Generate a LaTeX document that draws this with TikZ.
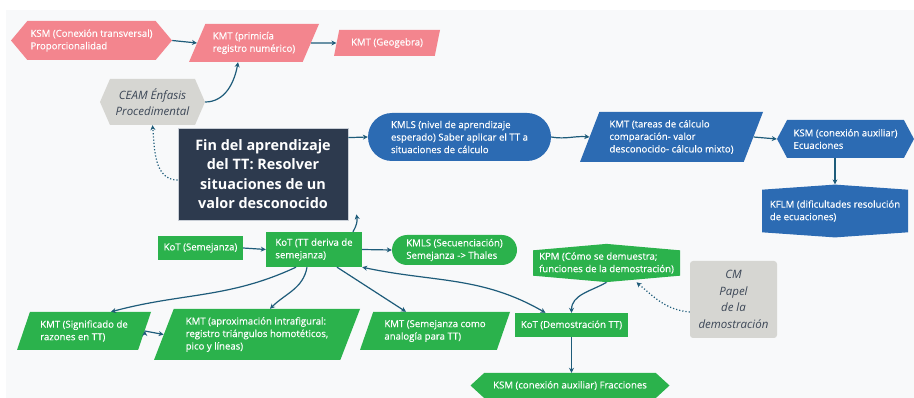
\documentclass[tikz,border=0pt]{standalone}
\usepackage{fontspec}
\setmainfont{Open Sans}
\newfontfamily\semib{Open Sans}[FakeBold=0.35]
\usetikzlibrary{shapes.geometric,shapes.symbols,shapes.misc,arrows.meta}

\definecolor{pinkbox}{HTML}{F3858E}
\definecolor{bluebox}{HTML}{2C6BB3}
\definecolor{greenbox}{HTML}{2BB24C}
\definecolor{navybox}{HTML}{2D3A4E}
\definecolor{navyline}{HTML}{C8CED6}
\definecolor{greybox}{HTML}{D6D6D2}
\definecolor{greytext}{HTML}{3B4656}
\definecolor{arrowc}{HTML}{1E5C7A}
\definecolor{canvas}{HTML}{F8F9FA}

\begin{document}
\begin{tikzpicture}[x=1pt,y=-1pt,>={Stealth[length=5pt,width=5pt]},
  base/.style={inner sep=2pt,text=white,align=left,font=\semib\fontsize{9.6}{12.5}\selectfont},
  para/.style={base,trapezium,trapezium left angle=63,trapezium right angle=117,trapezium stretches body},
  hexa/.style={base,signal,signal to=west and east,signal pointer angle=#1},
  bulge/.style={base,signal,signal to=north and south,signal pointer angle=#1},
  pill/.style={base,rounded rectangle},
  box/.style={base,rectangle},
  ital/.style={fill=greybox,text=greytext,align=center,font=\fontsize{11.5}{16.7}\selectfont\itshape},
  link/.style={->,draw=arrowc,line width=1.2pt}]
  \useasboundingbox (0,0) rectangle (914,398);
  \fill[canvas] (6,10) rectangle (914,398);
  % pink row
  \node[hexa=100,fill=pinkbox,minimum width=161pt,minimum height=39pt] (ksmprop) at (91.5,40.5) {KSM (Conexión transversal)\\Proporcionalidad};
  \node[para,fill=pinkbox,trapezium left angle=58,trapezium right angle=122,minimum width=130pt,minimum height=38pt] (kmtprim) at (254,43) {KMT (primicía\\registro numérico)};
  \node[para,fill=pinkbox,trapezium left angle=69,trapezium right angle=111,minimum width=106pt,minimum height=26pt] (kmtgeo) at (387,43) {KMT (Geogebra)};
  \node[hexa=133,ital,minimum width=105pt,minimum height=46pt] (ceam) at (152.5,102) {CEAM Énfasis\\Procedimental};
  \node[box,fill=navybox,draw=navyline,line width=0.8pt,align=center,font=\fontsize{14.4}{19.5}\selectfont\bfseries,minimum width=170pt,minimum height=92pt] (fin) at (263,174) {Fin del aprendizaje\\del TT: Resolver\\situaciones de un\\valor desconocido};
  % blue row
  \node[pill,fill=bluebox,minimum width=187pt,minimum height=48pt] (kmlsniv) at (459.5,137) {KMLS (nivel de aprendizaje\\esperado) Saber aplicar el TT a\\situaciones de cálculo};
  \node[para,fill=bluebox,minimum width=183pt,minimum height=50pt] (kmttar) at (671.5,137) {KMT (tareas de cálculo\\comparación- valor\\desconocido- cálculo mixto)};
  \node[hexa=124,fill=bluebox,minimum width=137pt,minimum height=38pt] (ksmecu) at (845.5,139) {KSM (conexión auxiliar)\\Ecuaciones};
  \node[bulge=172,fill=bluebox,minimum width=146pt,minimum height=52pt] (kflm) at (835,211) {KFLM (dificultades resolución\\de ecuaciones)};
  % green part
  \node[box,fill=greenbox,minimum width=85pt,minimum height=24pt] (kotsem) at (200.5,248) {KoT (Semejanza)};
  \node[box,fill=greenbox,minimum width=96pt,minimum height=35pt] (kottt) at (314,249.5) {KoT (TT deriva de\\ semejanza)};
  \node[pill,fill=greenbox,minimum width=129pt,minimum height=30pt] (kmlssec) at (454.5,250) {KMLS (Secuenciación)\\Semejanza -> Thales};
  \node[bulge=170,fill=greenbox,minimum width=147pt,minimum height=36pt] (kpm) at (606.5,263) {KPM (Cómo se demuestra;\\funciones de la demostración)};
  \node[box,ital,rounded corners=3pt,minimum width=87pt,minimum height=77pt] (cmpapel) at (733.5,299.5) {CM\\Papel\\de la\\demostración};
  \node[box,fill=greenbox,minimum width=113pt,minimum height=24pt] (kotdem) at (571.5,325) {KoT (Demostración TT)};
  \node[hexa=85,fill=greenbox,minimum width=199pt,minimum height=25pt] (ksmfrac) at (570,385.5) {KSM (conexión auxiliar) Fracciones};
  \node[para,fill=greenbox,minimum width=134pt,minimum height=38pt] (kmtsig) at (84,331) {KMT (Significado de\\ razones en TT)};
  \node[para,fill=greenbox,minimum width=206pt,minimum height=51pt] (kmtapr) at (257,334.5) {KMT (aproximación intrafigural:\\registro triángulos homotéticos,\\pico y líneas)};
  \node[para,fill=greenbox,minimum width=150pt,minimum height=38pt] (kmtana) at (435,331) {KMT (Semejanza como\\analogía para TT)};
  \path[link]
  (ksmprop.east) edge (kmtprim.west)
  (kmtprim.east) edge (kmtgeo.west)
  (ceam.east) edge [out=0,in=-100] ([xshift=-16pt]kmtprim.south)
  ([yshift=-6pt]fin.west) edge [dotted,out=180,in=-85] (ceam.south)
  ([yshift=-10pt]fin.north east) edge (kmlsniv.west)
  (kmlsniv.east) edge [out=-10,in=175] (kmttar.west)
  (kmttar.east) edge (ksmecu.west)
  (kflm.north |- ksmecu.south) edge (kflm.north)
  (kotsem.east) edge (kottt.west)
  ([xshift=39pt]kottt.north) edge [out=60,in=-80] ([xshift=8pt,yshift=6pt]fin.south east)
  (kottt.east) edge (kmlssec.west)
  (kottt.south east) edge [<->,out=-12,in=150] ([xshift=-26pt]kotdem.north)
  ([xshift=-18pt]kottt.south) edge [out=205,in=15] ([xshift=27pt]kmtsig.north)
  ([xshift=-7pt]kottt.south) edge [out=-100,in=45] ([xshift=13pt]kmtapr.north)
  ([xshift=23pt]kottt.south) edge ([xshift=-29pt]kmtana.north)
  (kpm.south) edge [out=210,in=90] (kotdem.north)
  ([yshift=-12.5pt]cmpapel.west) edge [dotted,out=175,in=-40] ([xshift=30pt]kpm.south)
  (kotdem.south) edge (kotdem.south |- ksmfrac.north)
  (kmtsig.east) edge (kmtapr.west)
  ;
\end{tikzpicture}
\end{document}
